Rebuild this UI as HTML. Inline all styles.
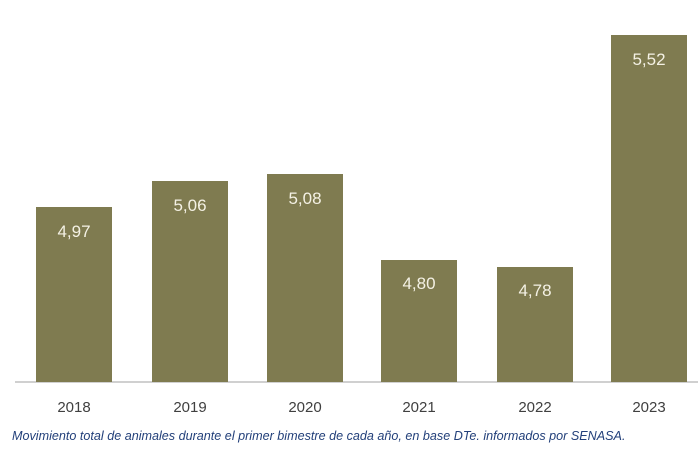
<!DOCTYPE html>
<html><head><style>
body{margin:0;width:698px;height:455px;background:#fff;position:relative;overflow:hidden;font-family:"Liberation Sans",sans-serif}
.b{position:absolute;background:#7f7b50;width:76px}
.v{position:absolute;width:76px;text-align:center;color:#f4f1e4;font-size:17px}
.y{position:absolute;width:76px;text-align:center;color:#404040;font-size:15px;top:399px}
</style></head><body>
<div style="position:absolute;left:15px;top:381px;width:683px;height:2px;background:#d0d0d0"></div>
<div class="b" style="left:36px;top:207px;height:175px"></div><div class="v" style="left:36px;top:222px">4,97</div><div class="y" style="left:36px">2018</div>
<div class="b" style="left:152px;top:181px;height:201px"></div><div class="v" style="left:152px;top:196px">5,06</div><div class="y" style="left:152px">2019</div>
<div class="b" style="left:267px;top:174px;height:208px"></div><div class="v" style="left:267px;top:189px">5,08</div><div class="y" style="left:267px">2020</div>
<div class="b" style="left:381px;top:260px;height:122px"></div><div class="v" style="left:381px;top:274px">4,80</div><div class="y" style="left:381px">2021</div>
<div class="b" style="left:497px;top:267px;height:115px"></div><div class="v" style="left:497px;top:281px">4,78</div><div class="y" style="left:497px">2022</div>
<div class="b" style="left:611px;top:35px;height:347px"></div><div class="v" style="left:611px;top:50px">5,52</div><div class="y" style="left:611px">2023</div>
<div style="position:absolute;left:12px;top:429px;font-size:12.6px;font-style:italic;color:#23407a;white-space:nowrap">Movimiento total de animales durante el primer bimestre de cada año, en base DTe. informados por SENASA.</div>
</body></html>
